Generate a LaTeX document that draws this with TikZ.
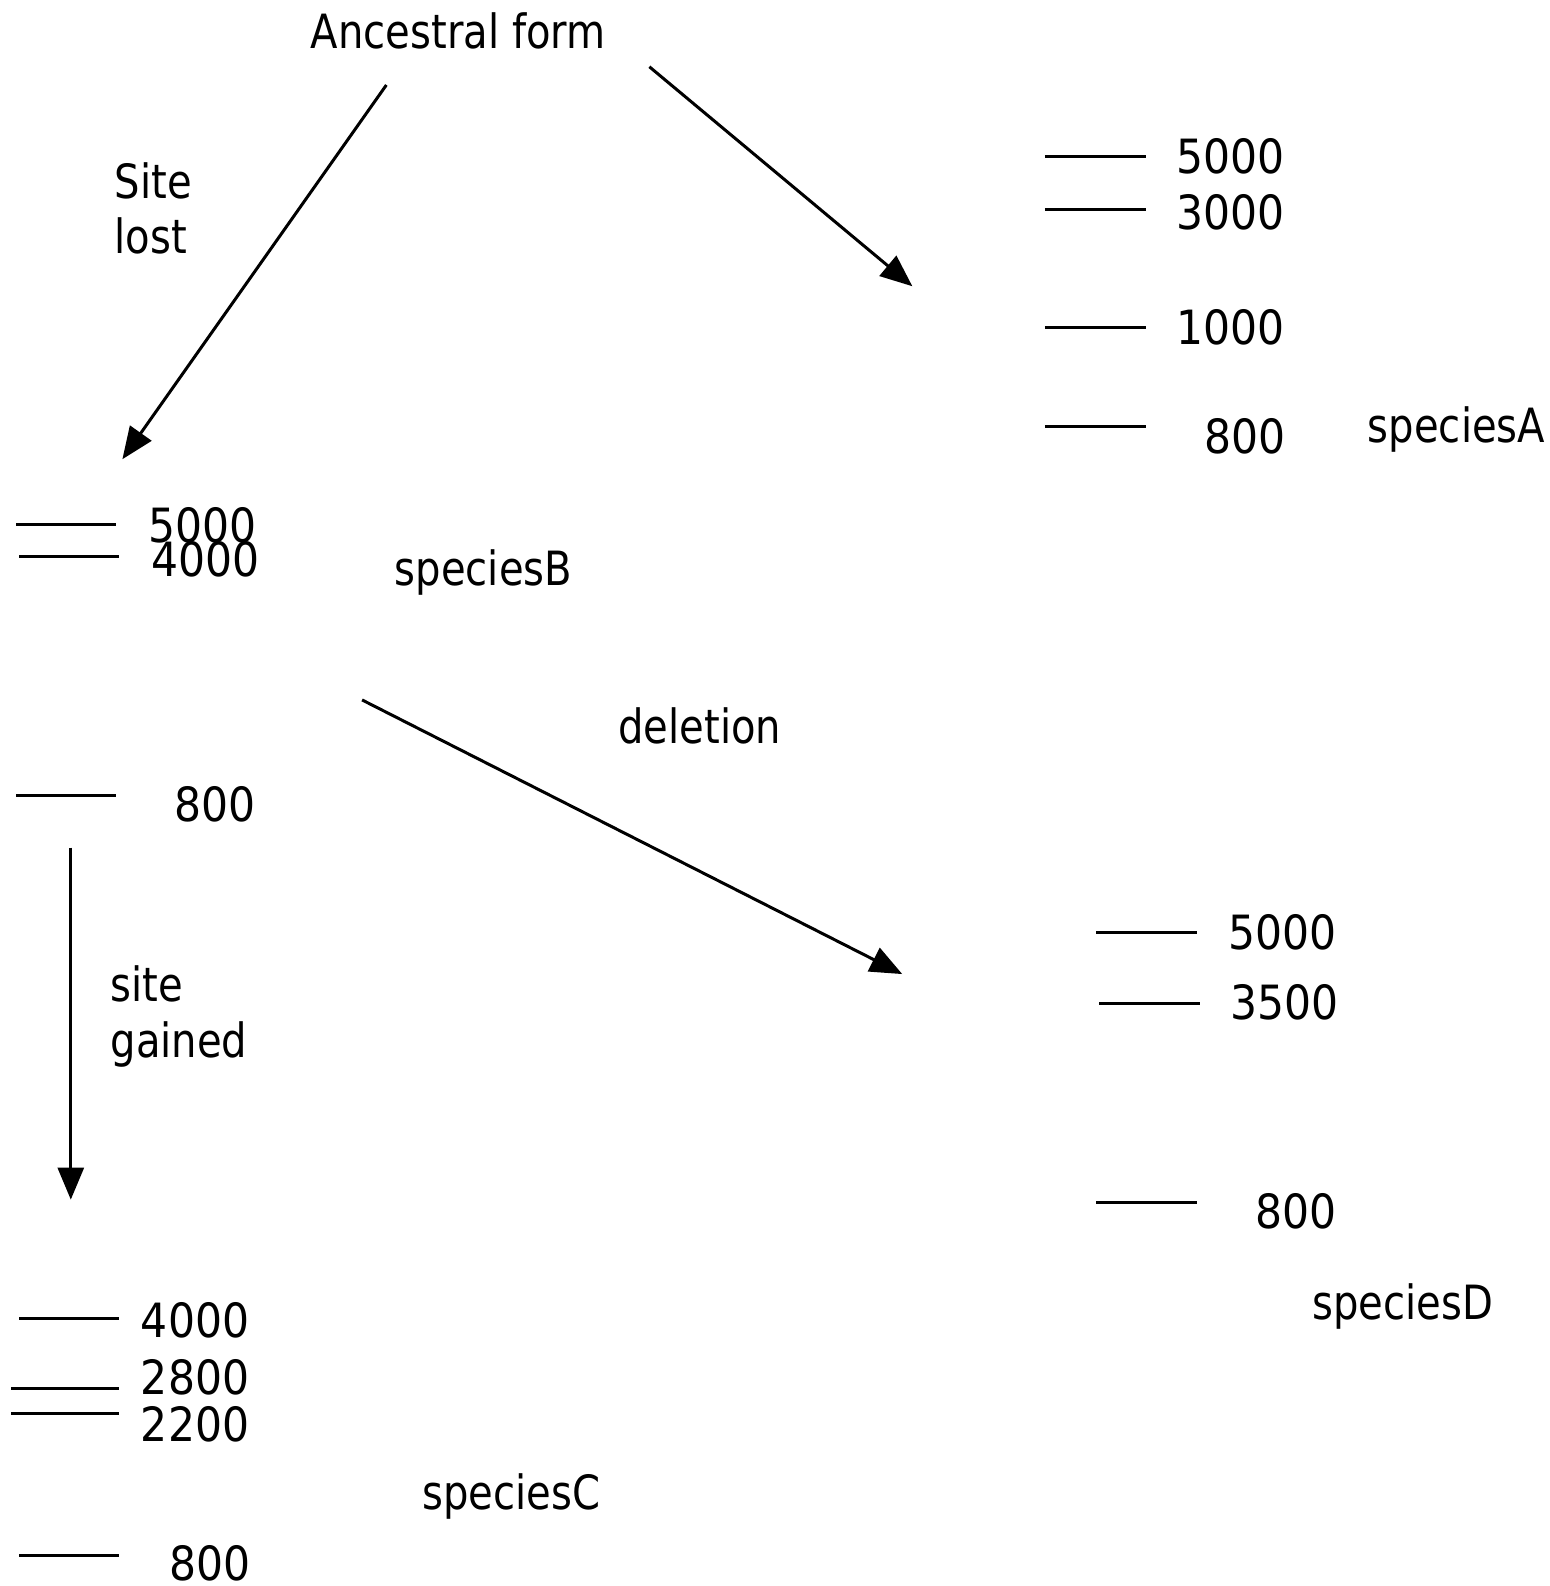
\documentclass[tikz,border=0pt]{standalone}
\usepackage{fontspec}
\setmainfont{DejaVu Sans}[FakeStretch=0.9]
\newfontfamily\wordfont{DejaVu Sans}[FakeStretch=0.85]
\usetikzlibrary{arrows.meta}
\tikzset{
  lbl/.style={anchor=base west, inner sep=0pt, font=\fontsize{23.6}{28}\selectfont},
  word/.style={lbl, font=\fontsize{23.6}{28}\wordfont},
  band/.style={line width=1.5pt},
  branch/.style={line width=1.5pt, -{Triangle[length=16pt,width=13pt]}},
}
\begin{document}
\begin{tikzpicture}[x=0.50587pt, y=-0.50587pt]
\useasboundingbox (0,0) rectangle (1532,1568);

% root label
\node[word] (anc) at (307,48) {Ancestral form};

% branch end points
\coordinate (ancL) at (382,84);
\coordinate (tipB) at (121,454);
\coordinate (ancR) at (642,66);
\coordinate (tipA) at (902,283);
\coordinate (fromB) at (358,692);
\coordinate (tipD) at (892,963);
\coordinate (fromB2) at (70,838);
\coordinate (tipC) at (70,1186);

\draw[branch] (ancL) -- (tipB);
\draw[branch] (ancR) -- (tipA);
\draw[branch] (fromB) -- (tipD);
\draw[branch] (fromB2) -- (tipC);

% branch labels
\node[word] (lost1) at (113,196) {Site};
\node[word] (lost2) at (113,251) {lost};
\node[word] (del) at (611,735) {deletion};
\node[word] (gain1) at (109,990) {site};
\node[word] (gain2) at (109,1045) {gained};

% species A
\draw[band] (1033,155) -- (1133,155);
\draw[band] (1033,207) -- (1133,207);
\draw[band] (1033,324) -- (1133,324);
\draw[band] (1033,422) -- (1133,422);
\node[lbl] (a1) at (1163,172) {5000};
\node[lbl] (a2) at (1163,227) {3000};
\node[lbl] (a3) at (1163,341) {1000};
\node[lbl] (a4) at (1190,448) {800};
\node[word] (spA) at (1352,437) {speciesA};

% species B
\draw[band] (16,519) -- (115,519);
\draw[band] (19,550) -- (118,550);
\draw[band] (16,786) -- (115,786);
\node[lbl] (b1) at (146,536) {5000};
\node[lbl] (b2) at (149,570) {4000};
\node[lbl] (b3) at (172,812) {800};
\node[word] (spB) at (390,579) {speciesB};

% species D
\draw[band] (1084,922) -- (1183,922);
\draw[band] (1087,992) -- (1186,992);
\draw[band] (1084,1189) -- (1183,1189);
\node[lbl] (d1) at (1214,939) {5000};
\node[lbl] (d2) at (1216,1008) {3500};
\node[lbl] (d3) at (1241,1215) {800};
\node[word] (spD) at (1297,1305) {speciesD};

% species C
\draw[band] (19,1304) -- (118,1304);
\draw[band] (11,1373) -- (118,1373);
\draw[band] (11,1397) -- (118,1397);
\draw[band] (19,1538) -- (118,1538);
\node[lbl] (c1) at (139,1322) {4000};
\node[lbl] (c2) at (139,1379) {2800};
\node[lbl] (c3) at (139,1425) {2200};
\node[lbl] (c4) at (167,1563) {800};
\node[word] (spC) at (417,1492) {speciesC};
\end{tikzpicture}
\end{document}
